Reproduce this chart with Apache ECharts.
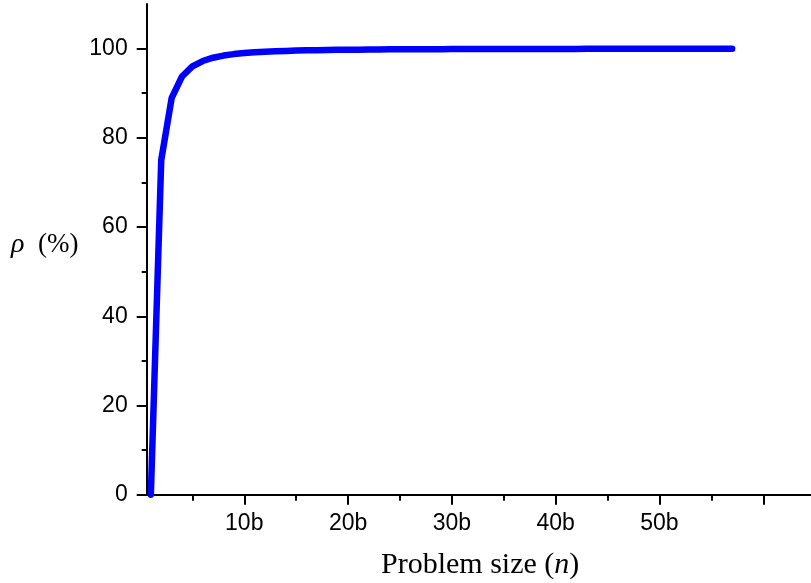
<!DOCTYPE html>
<html>
<head>
<meta charset="utf-8">
<script src="https://cdn.jsdelivr.net/npm/echarts@6/dist/echarts.min.js"></script>
<style>
    html, body { margin: 0; padding: 0; background: #fff; }
    #chart { width: 811px; height: 583px; }
</style>
</head>
<body>
<div id="chart"></div>
<script>
    // problem size n (in units of b) and success ratio rho (%)
    const problemSize = [1, 2, 3, 4, 5, 6, 7, 8, 9, 10, 11, 12, 13, 14, 15, 16, 17, 18, 19, 20,
        21, 22, 23, 24, 25, 26, 27, 28, 29, 30, 31, 32, 33, 34, 35, 36, 37, 38, 39, 40,
        41, 42, 43, 44, 45, 46, 47, 48, 49, 50, 51, 52, 53, 54, 55, 56, 57];
    const rho = [0, 75, 88.89, 93.75, 96, 97.22, 97.96, 98.44, 98.77, 99, 99.17, 99.31, 99.41, 99.49, 99.56, 99.61, 99.65, 99.69, 99.72, 99.75,
        99.77, 99.79, 99.81, 99.83, 99.84, 99.85, 99.86, 99.87, 99.88, 99.89, 99.9, 99.9, 99.91, 99.91, 99.92, 99.92, 99.93, 99.93, 99.93, 99.94,
        99.94, 99.94, 99.95, 99.95, 99.95, 99.95, 99.95, 99.96, 99.96, 99.96, 99.96, 99.96, 99.96, 99.97, 99.97, 99.97, 99.97];

    const xMajorTicks = [10, 20, 30, 40, 50, 60];
    const xLabels = [10, 20, 30, 40, 50];
    const xMinorTicks = [5, 15, 25, 35, 45, 55];
    const yMajorTicks = [0, 20, 40, 60, 80, 100];
    const yMinorTicks = [10, 30, 50, 70, 90];

    let chart = echarts.init(document.getElementById('chart'));

    let axisLine = { show: true, onZero: false, lineStyle: { color: '#000', width: 2 } };
    let labelFont = { color: '#000', fontSize: 23, fontFamily: 'Liberation Sans, Arial' };

    let option = {
        animation: false,
        grid: { left: 146.7, right: 0, top: 4, bottom: 88.3, containLabel: false },
        xAxis: [
            {
                type: 'value', position: 'bottom', min: 0.6, max: 64.6,
                axisLine: axisLine,
                axisTick: { show: true, inside: false, length: 10, customValues: xMajorTicks, lineStyle: { color: '#000', width: 2 } },
                axisLabel: Object.assign({ margin: 17, customValues: xLabels, formatter: v => v + 'b' }, labelFont),
                splitLine: { show: false }
            },
            {
                type: 'value', position: 'bottom', min: 0.6, max: 64.6,
                axisLine: { show: false, onZero: false },
                axisTick: { show: true, inside: false, length: 6, customValues: xMinorTicks, lineStyle: { color: '#000', width: 2 } },
                axisLabel: { show: false },
                splitLine: { show: false }
            }
        ],
        yAxis: [
            {
                type: 'value', position: 'left', min: 0, max: 110,
                axisLine: axisLine,
                axisTick: { show: true, inside: false, length: 10, customValues: yMajorTicks, lineStyle: { color: '#000', width: 2 } },
                axisLabel: Object.assign({ margin: 19, customValues: yMajorTicks }, labelFont),
                splitLine: { show: false }
            },
            {
                type: 'value', position: 'left', min: 0, max: 110,
                axisLine: { show: false, onZero: false },
                axisTick: { show: true, inside: false, length: 5, customValues: yMinorTicks, lineStyle: { color: '#000', width: 2 } },
                axisLabel: { show: false },
                splitLine: { show: false }
            }
        ],
        graphic: [
            {
                type: 'text', left: 381, top: 550,
                style: {
                    text: '{a|Problem size (}{b|n}{a|)}',
                    rich: {
                        a: { fontFamily: 'Liberation Serif, Times New Roman', fontSize: 30, fill: '#000' },
                        b: { fontFamily: 'Liberation Serif, Times New Roman', fontSize: 30, fontStyle: 'italic', fill: '#000' }
                    }
                }
            },
            {
                type: 'text', left: 11, top: 231,
                style: {
                    text: '{b|ρ}{a|  (%)}',
                    rich: {
                        a: { fontFamily: 'Liberation Serif, Times New Roman', fontSize: 27, fill: '#000' },
                        b: { fontFamily: 'Liberation Serif, Times New Roman', fontSize: 28, fontStyle: 'italic', fill: '#000' }
                    }
                }
            }
        ],
        series: [
            {
                name: 'rho',
                type: 'line',
                xAxisIndex: 0,
                yAxisIndex: 0,
                data: problemSize.map((n, i) => [n, rho[i]]),
                showSymbol: false,
                lineStyle: { color: '#0000ff', width: 6.5, cap: 'round', join: 'round' }
            }
        ]
    };
    chart.setOption(option);
</script>
</body>
</html>
